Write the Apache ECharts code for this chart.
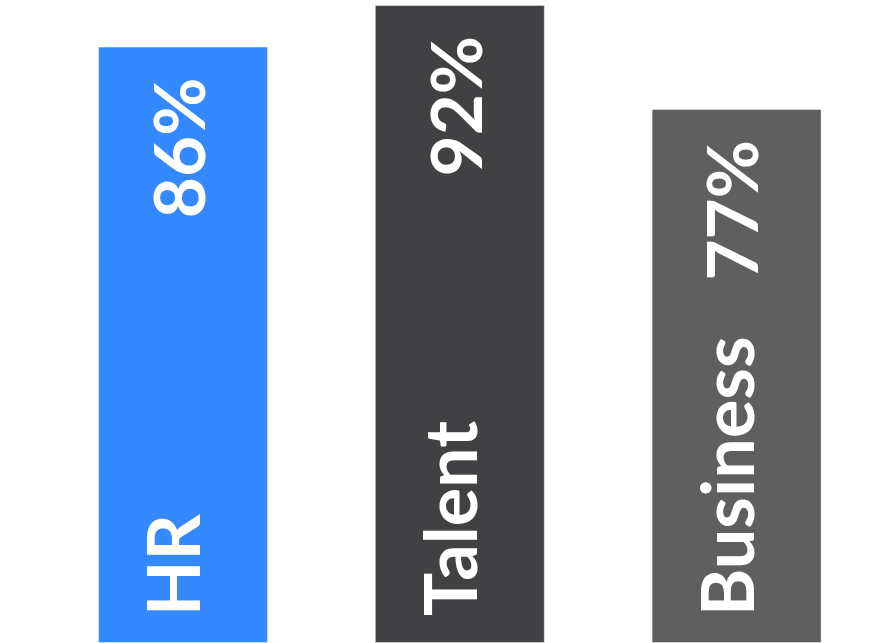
<!DOCTYPE html>
<html>
<head>
<meta charset="utf-8">
<style>
  html, body { margin: 0; padding: 0; background: #ffffff; }
  #chart { width: 875px; height: 643px; }
</style>
<script src="https://cdn.jsdelivr.net/npm/echarts@6/dist/echarts.min.js"></script>
</head>
<body>
<div id="chart"></div>
<script>
// Share of each group, in percent
const categories = ['HR', 'Talent', 'Business'];
const values = [86, 92, 77];
const barColors = ['#3489fe', '#414143', '#5f5f5f'];

const labelFont = 'Lato, "Open Sans", sans-serif';

const chart = echarts.init(document.getElementById('chart'), null, { renderer: 'canvas' });

chart.setOption({
  animation: false,
  backgroundColor: '#ffffff',
  grid: { left: 44.6, right: 0, top: 5, bottom: 0 },
  xAxis: {
    type: 'category',
    data: categories,
    show: false
  },
  yAxis: {
    type: 'value',
    min: 0,
    max: 'dataMax',
    show: false
  },
  series: [
    {
      // the bars, with the percentage near the top
      type: 'bar',
      barWidth: 170,
      barGap: '-100%',
      data: values.map((v, i) => ({
        value: v,
        itemStyle: { color: barColors[i] }
      })),
      itemStyle: {
        borderColor: 'rgba(255,255,255,0.45)',
        borderWidth: 1
      },
      label: {
        show: true,
        position: 'insideTop',
        distance: 31,
        rotate: 90,
        align: 'right',
        verticalAlign: 'middle',
        offset: [0, -1],
        formatter: p => p.value + '%',
        color: '#ffffff',
        fontFamily: labelFont,
        fontWeight: 'bold',
        fontSize: 71
      }
    },
    {
      // category names written at the foot of each bar
      type: 'bar',
      barWidth: 170,
      barGap: '-100%',
      silent: true,
      data: values,
      itemStyle: { color: 'rgba(0,0,0,0)' },
      label: {
        show: true,
        position: 'insideBottom',
        distance: 27,
        rotate: 90,
        align: 'left',
        verticalAlign: 'middle',
        offset: [0, -6],
        formatter: p => p.name,
        color: '#ffffff',
        fontFamily: labelFont,
        fontWeight: 'bold',
        fontSize: 72
      }
    }
  ]
});
</script>
</body>
</html>
